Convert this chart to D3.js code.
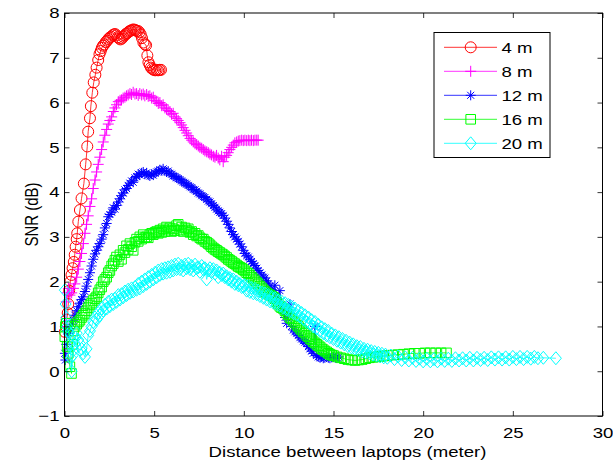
<!DOCTYPE html>
<html><head><meta charset="utf-8">
<script src="https://cdn.jsdelivr.net/npm/d3@7"></script>
<style>body{margin:0;background:#fff}svg{display:block}text{font-family:"Liberation Sans",Arial,sans-serif;fill:#000}</style>
</head><body><svg id="c" width="613" height="466"></svg>
<script>
const xTicks=[0,5,10,15,20,25,30];
const yTicks=[-1,0,1,2,3,4,5,6,7,8];
const seriesNames=["4 m","8 m","12 m","16 m","20 m"];
const seriesColors=["#ff0000","#ff00ff","#0000ff","#00ff00","#00ffff"];
const seriesMarkers=["circle","plus","star","square","diamond"];
const xLabel="Distance between laptops (meter)";
const yLabel="SNR (dB)";

const snr4m=[[0.02,0.88],[0.08,1.0],[0.12,1.15],[0.18,1.3],[0.21,1.5],[0.26,1.8],[0.33,2.0],[0.39,2.15],[0.45,2.3],[0.52,2.44],[0.57,2.6],[0.62,2.78],[0.68,2.95],[0.71,3.08],[0.77,3.34],[0.86,3.6],[0.95,3.86],[1.08,4.19],[1.18,4.62],[1.27,5.02],[1.32,5.35],[1.42,5.65],[1.47,5.92],[1.55,6.22],[1.63,6.45],[1.72,6.62],[1.79,6.78],[1.88,6.95],[1.95,7.08],[2.02,7.15],[2.08,7.22],[2.15,7.27],[2.22,7.3],[2.3,7.35],[2.38,7.38],[2.45,7.42],[2.52,7.45],[2.6,7.47],[2.68,7.5],[2.75,7.52],[2.82,7.53],[2.9,7.5],[2.98,7.46],[3.05,7.43],[3.12,7.41],[3.2,7.43],[3.28,7.47],[3.35,7.5],[3.42,7.53],[3.5,7.55],[3.58,7.58],[3.65,7.6],[3.72,7.61],[3.8,7.63],[3.88,7.63],[3.95,7.62],[4.02,7.6],[4.1,7.6],[4.18,7.57],[4.25,7.52],[4.32,7.44],[4.4,7.34],[4.48,7.3],[4.55,7.28],[4.62,7.05],[4.68,6.9],[4.75,6.84],[4.82,6.78],[4.9,6.75],[4.98,6.73],[5.06,6.72],[5.14,6.73],[5.22,6.72],[5.3,6.73],[5.38,6.73]];

const snr8m=[[0.05,1.0],[0.1,1.55],[0.15,1.75],[0.22,1.85],[0.3,1.7],[0.4,1.75],[0.5,1.85],[0.58,1.95],[0.68,2.1],[0.77,2.28],[0.86,2.45],[0.95,2.63],[1.05,2.85],[1.14,3.08],[1.23,3.28],[1.32,3.47],[1.42,3.68],[1.51,3.85],[1.6,4.08],[1.7,4.27],[1.79,4.45],[1.88,4.62],[1.97,4.78],[2.07,4.95],[2.16,5.12],[2.25,5.27],[2.35,5.4],[2.44,5.52],[2.53,5.6],[2.63,5.68],[2.72,5.8],[2.81,5.88],[2.9,5.95],[3.0,6.02],[3.1,6.05],[3.18,6.06],[3.27,6.1],[3.37,6.12],[3.46,6.15],[3.55,6.17],[3.65,6.2],[3.74,6.18],[3.83,6.23],[3.93,6.19],[4.02,6.2],[4.11,6.16],[4.2,6.2],[4.3,6.17],[4.39,6.19],[4.48,6.15],[4.58,6.18],[4.67,6.14],[4.76,6.15],[4.86,6.1],[4.95,6.12],[5.05,6.05],[5.14,6.03],[5.23,5.98],[5.32,6.0],[5.42,5.93],[5.5,5.95],[5.6,5.88],[5.69,5.86],[5.78,5.82],[5.88,5.8],[5.97,5.74],[6.06,5.76],[6.16,5.68],[6.25,5.64],[6.34,5.6],[6.44,5.55],[6.53,5.5],[6.62,5.44],[6.72,5.38],[6.81,5.32],[6.9,5.26],[7.0,5.2],[7.09,5.16],[7.18,5.12],[7.28,5.08],[7.37,5.06],[7.46,5.03],[7.55,5.0],[7.65,4.98],[7.74,4.95],[7.83,4.92],[7.93,4.9],[8.02,4.88],[8.11,4.85],[8.2,4.83],[8.3,4.8],[8.39,4.78],[8.48,4.82],[8.57,4.76],[8.66,4.72],[8.76,4.8],[8.85,4.68],[8.94,4.78],[9.04,4.82],[9.13,4.88],[9.22,4.95],[9.32,5.0],[9.41,5.05],[9.5,5.1],[9.6,5.12],[9.69,5.14],[9.78,5.15],[9.88,5.16],[9.97,5.15],[10.06,5.16],[10.16,5.15],[10.25,5.16],[10.34,5.15],[10.43,5.16],[10.53,5.15],[10.62,5.16],[10.72,5.16],[10.8,5.16]];

const snr12m=[[0.02,0.4],[0.05,0.25],[0.1,0.6],[0.15,0.9],[0.21,0.85],[0.3,0.95],[0.4,1.05],[0.49,1.14],[0.58,1.25],[0.68,1.35],[0.77,1.44],[0.86,1.52],[0.95,1.6],[1.04,1.66],[1.14,1.78],[1.23,1.9],[1.32,2.05],[1.42,2.2],[1.51,2.35],[1.6,2.5],[1.7,2.62],[1.79,2.7],[1.88,2.78],[1.97,2.85],[2.07,2.95],[2.16,3.05],[2.25,3.2],[2.35,3.3],[2.44,3.45],[2.53,3.5],[2.63,3.55],[2.72,3.65],[2.81,3.62],[2.9,3.7],[3.0,3.78],[3.09,3.85],[3.18,3.92],[3.27,3.98],[3.37,4.05],[3.46,4.08],[3.55,4.15],[3.65,4.2],[3.74,4.25],[3.83,4.22],[3.93,4.32],[4.02,4.35],[4.11,4.4],[4.2,4.38],[4.3,4.43],[4.39,4.45],[4.48,4.4],[4.58,4.43],[4.67,4.38],[4.76,4.36],[4.86,4.4],[4.95,4.38],[5.05,4.42],[5.14,4.45],[5.23,4.47],[5.32,4.5],[5.42,4.48],[5.5,4.52],[5.6,4.47],[5.69,4.45],[5.78,4.47],[5.88,4.42],[5.97,4.4],[6.06,4.36],[6.16,4.35],[6.25,4.32],[6.34,4.3],[6.44,4.28],[6.53,4.25],[6.62,4.22],[6.72,4.2],[6.81,4.18],[6.9,4.15],[7.0,4.12],[7.09,4.1],[7.18,4.06],[7.28,4.05],[7.37,4.02],[7.46,3.98],[7.55,3.96],[7.65,3.92],[7.74,3.9],[7.83,3.88],[7.93,3.84],[8.02,3.8],[8.11,3.78],[8.2,3.74],[8.3,3.7],[8.39,3.66],[8.48,3.62],[8.57,3.58],[8.66,3.55],[8.76,3.52],[8.85,3.48],[8.94,3.42],[9.04,3.35],[9.13,3.28],[9.22,3.2],[9.32,3.12],[9.41,3.05],[9.5,3.0],[9.6,2.95],[9.69,2.9],[9.78,2.84],[9.88,2.78],[9.97,2.7],[10.06,2.63],[10.16,2.58],[10.25,2.55],[10.34,2.5],[10.43,2.45],[10.53,2.4],[10.62,2.36],[10.72,2.3],[10.8,2.25],[10.9,2.2],[11.0,2.15],[11.09,2.1],[11.18,2.08],[11.27,2.02],[11.37,1.95],[11.46,1.9],[11.55,1.82],[11.65,1.75],[11.73,1.92],[11.83,1.65],[11.92,1.55],[12.01,1.8],[12.1,1.45],[12.2,1.35],[12.3,1.2],[12.39,1.07],[12.48,1.3],[12.57,1.5],[12.66,1.0],[12.76,0.92],[12.85,0.88],[12.95,0.85],[13.04,0.8],[13.13,0.75],[13.22,0.72],[13.32,0.68],[13.41,0.65],[13.5,0.62],[13.6,0.55],[13.69,0.5],[13.78,0.45],[13.87,0.4],[13.97,1.0],[14.06,0.35],[14.15,0.32],[14.25,0.3],[14.34,0.32],[14.43,0.29],[14.52,0.3],[14.62,0.32],[14.71,0.3],[14.8,0.29],[14.9,0.31],[14.99,0.32],[15.1,0.3],[15.2,0.31],[15.3,0.32]];

const snr16m=[[0.02,0.77],[0.05,1.0],[0.1,1.07],[0.15,0.55],[0.21,0.4],[0.3,0.1],[0.39,-0.05],[0.45,0.6],[0.5,0.9],[0.58,1.0],[0.68,1.05],[0.77,1.1],[0.86,1.14],[0.95,1.2],[1.04,1.25],[1.14,1.29],[1.23,1.35],[1.32,1.42],[1.42,1.48],[1.51,1.52],[1.6,1.58],[1.7,1.62],[1.79,1.66],[1.88,1.75],[1.97,1.82],[2.07,1.88],[2.16,2.0],[2.25,2.05],[2.35,2.1],[2.44,2.2],[2.53,2.25],[2.63,2.35],[2.72,2.4],[2.81,2.48],[2.9,2.55],[3.0,2.45],[3.09,2.6],[3.18,2.5],[3.27,2.7],[3.37,2.65],[3.46,2.8],[3.55,2.72],[3.65,2.85],[3.74,2.78],[3.83,2.7],[3.93,2.88],[4.02,2.95],[4.11,2.9],[4.2,3.0],[4.3,2.95],[4.39,3.05],[4.48,2.98],[4.58,3.0],[4.67,2.98],[4.76,3.05],[4.86,3.08],[4.95,3.05],[5.05,3.1],[5.14,3.12],[5.23,3.08],[5.32,3.15],[5.42,3.1],[5.5,3.18],[5.6,3.12],[5.69,3.22],[5.78,3.15],[5.88,3.2],[5.97,3.12],[6.06,3.18],[6.16,3.14],[6.25,3.25],[6.34,3.28],[6.44,3.15],[6.53,3.22],[6.62,3.12],[6.72,3.2],[6.81,3.15],[6.9,3.18],[7.0,3.1],[7.09,3.12],[7.18,3.05],[7.28,3.08],[7.37,3.02],[7.46,3.03],[7.55,2.98],[7.65,2.95],[7.74,2.95],[7.83,2.9],[7.93,2.88],[8.02,2.85],[8.11,2.82],[8.2,2.78],[8.3,2.75],[8.39,2.72],[8.48,2.7],[8.57,2.67],[8.66,2.65],[8.76,2.62],[8.85,2.6],[8.94,2.57],[9.04,2.54],[9.13,2.5],[9.22,2.48],[9.32,2.45],[9.41,2.42],[9.5,2.4],[9.6,2.37],[9.69,2.34],[9.78,2.32],[9.88,2.3],[9.97,2.27],[10.06,2.24],[10.16,2.2],[10.25,2.18],[10.34,2.14],[10.43,2.1],[10.53,2.06],[10.62,2.02],[10.72,1.98],[10.8,1.95],[10.9,1.9],[11.0,1.86],[11.09,1.82],[11.18,1.78],[11.27,1.75],[11.37,1.72],[11.46,1.7],[11.55,1.68],[11.65,1.65],[11.73,1.62],[11.83,1.55],[11.92,1.5],[12.01,1.45],[12.1,1.42],[12.2,1.4],[12.3,1.35],[12.39,1.3],[12.48,1.26],[12.57,1.2],[12.66,1.17],[12.76,1.12],[12.85,1.08],[12.95,1.03],[13.04,1.0],[13.13,0.96],[13.22,0.92],[13.32,0.88],[13.41,0.85],[13.5,0.8],[13.6,0.77],[13.69,0.73],[13.78,0.7],[13.87,0.66],[13.97,0.63],[14.06,0.6],[14.15,0.57],[14.25,0.54],[14.34,0.5],[14.43,0.48],[14.52,0.45],[14.62,0.43],[14.71,0.4],[14.8,0.38],[14.9,0.36],[15.0,0.35],[15.2,0.32],[15.4,0.3],[15.6,0.28],[15.8,0.26],[16.0,0.25],[16.2,0.24],[16.4,0.25],[16.6,0.26],[16.8,0.28],[17.0,0.3],[17.2,0.31],[17.4,0.32],[17.6,0.33],[17.8,0.34],[18.0,0.35],[18.3,0.36],[18.6,0.37],[18.9,0.38],[19.2,0.39],[19.5,0.4],[19.8,0.4],[20.1,0.41],[20.4,0.41],[20.7,0.41],[21.0,0.41],[21.3,0.41]];

const snr20m=[[0.02,1.81],[0.06,1.5],[0.1,1.2],[0.15,1.0],[0.2,0.9],[0.26,0.85],[0.3,0.6],[0.35,0.3],[0.4,0.0],[0.45,0.35],[0.49,0.47],[0.55,0.6],[0.62,0.75],[0.68,0.85],[0.77,0.7],[0.86,0.62],[0.95,0.5],[1.04,0.4],[1.14,0.32],[1.23,0.5],[1.32,0.8],[1.42,0.9],[1.51,1.0],[1.6,1.1],[1.7,1.2],[1.79,1.15],[1.88,1.3],[1.97,1.25],[2.07,1.4],[2.16,1.35],[2.25,1.48],[2.35,1.4],[2.44,1.55],[2.53,1.45],[2.63,1.6],[2.72,1.5],[2.81,1.62],[2.9,1.55],[3.0,1.7],[3.09,1.6],[3.18,1.72],[3.27,1.65],[3.37,1.78],[3.46,1.7],[3.55,1.82],[3.65,1.75],[3.74,1.85],[3.83,1.78],[3.93,1.88],[4.02,1.82],[4.11,1.95],[4.2,1.85],[4.3,2.0],[4.39,1.9],[4.48,2.05],[4.58,1.95],[4.67,2.1],[4.76,2.0],[4.86,2.15],[4.95,2.05],[5.05,2.2],[5.14,2.1],[5.23,2.25],[5.32,2.15],[5.42,2.28],[5.5,2.18],[5.6,2.3],[5.69,2.2],[5.78,2.32],[5.88,2.22],[5.97,2.35],[6.06,2.25],[6.16,2.38],[6.25,2.28],[6.34,2.4],[6.44,2.28],[6.53,2.35],[6.62,2.25],[6.72,2.38],[6.81,2.3],[6.9,2.4],[7.0,2.28],[7.09,2.35],[7.18,2.25],[7.28,2.38],[7.37,2.3],[7.46,2.32],[7.55,2.22],[7.65,2.35],[7.74,2.28],[7.83,2.3],[7.93,2.05],[8.02,2.25],[8.11,2.3],[8.2,2.22],[8.3,2.28],[8.39,2.18],[8.48,2.25],[8.57,2.1],[8.66,2.2],[8.76,2.15],[8.85,2.18],[8.94,2.1],[9.04,2.12],[9.13,2.05],[9.22,2.08],[9.32,2.0],[9.41,2.05],[9.5,1.95],[9.6,2.0],[9.69,1.92],[9.78,1.95],[9.88,1.88],[9.97,1.9],[10.06,1.92],[10.16,1.8],[10.25,1.9],[10.34,1.77],[10.43,1.86],[10.53,1.74],[10.62,1.84],[10.72,1.72],[10.8,1.8],[10.9,1.68],[11.0,1.76],[11.09,1.64],[11.18,1.74],[11.27,1.6],[11.37,1.7],[11.46,1.56],[11.55,1.66],[11.65,1.53],[11.73,1.63],[11.83,1.5],[11.92,1.58],[12.01,1.46],[12.1,1.56],[12.2,1.42],[12.3,1.52],[12.39,1.38],[12.48,1.48],[12.57,1.34],[12.66,1.44],[12.76,1.3],[12.85,1.4],[12.95,1.26],[13.04,1.35],[13.13,1.22],[13.22,1.3],[13.32,1.16],[13.41,1.25],[13.5,1.1],[13.6,1.2],[13.69,1.06],[13.78,1.14],[13.87,1.0],[13.97,1.1],[14.06,0.96],[14.15,1.04],[14.25,0.9],[14.34,0.98],[14.43,0.85],[14.52,0.94],[14.62,0.8],[14.71,0.9],[14.8,0.76],[14.9,0.84],[15.0,0.72],[15.1,0.8],[15.2,0.68],[15.3,0.76],[15.4,0.64],[15.5,0.72],[15.6,0.6],[15.7,0.68],[15.8,0.56],[15.9,0.64],[16.0,0.53],[16.1,0.6],[16.2,0.5],[16.3,0.56],[16.4,0.47],[16.5,0.54],[16.6,0.44],[16.7,0.5],[16.8,0.42],[16.9,0.48],[17.0,0.4],[17.1,0.45],[17.2,0.37],[17.3,0.43],[17.4,0.35],[17.5,0.41],[17.6,0.33],[17.7,0.39],[17.8,0.31],[17.9,0.37],[18.0,0.3],[18.2,0.35],[18.4,0.27],[18.6,0.33],[18.8,0.25],[19.0,0.31],[19.2,0.24],[19.4,0.3],[19.6,0.23],[19.8,0.28],[20.0,0.22],[20.2,0.28],[20.4,0.22],[20.6,0.27],[20.8,0.22],[21.0,0.28],[21.2,0.23],[21.4,0.28],[21.6,0.23],[21.8,0.29],[22.0,0.24],[22.2,0.29],[22.4,0.24],[22.6,0.3],[22.8,0.24],[23.0,0.3],[23.2,0.25],[23.4,0.3],[23.6,0.25],[23.8,0.31],[24.0,0.26],[24.2,0.31],[24.4,0.26],[24.6,0.31],[24.8,0.26],[25.0,0.32],[25.2,0.27],[25.4,0.32],[25.6,0.27],[25.8,0.32],[26.0,0.28],[26.2,0.32],[26.4,0.29],[26.7,0.3],[27.4,0.29]];

const allSeries=[snr4m,snr8m,snr12m,snr16m,snr20m];

const svg=d3.select("#c");
const L=64.5,R=602.5,T=13,B=416;
const x=d3.scaleLinear().domain([0,30]).range([L,R]);
const y=d3.scaleLinear().domain([-1,8]).range([B,T]);
const SX=1.24, FS=15;

function markerPath(type){
  const p=d3.path();
  if(type==="circle"){p.moveTo(5.5,0);p.arc(0,0,5.5,0,2*Math.PI);}
  else if(type==="plus"){p.moveTo(-5.5,0);p.lineTo(5.5,0);p.moveTo(0,-5.5);p.lineTo(0,5.5);}
  else if(type==="star"){const r=5,d=3.5;p.moveTo(-r,0);p.lineTo(r,0);p.moveTo(0,-r);p.lineTo(0,r);p.moveTo(-d,-d);p.lineTo(d,d);p.moveTo(-d,d);p.lineTo(d,-d);}
  else if(type==="square"){p.rect(-4.8,-4.8,9.6,9.6);}
  else if(type==="diamond"){p.moveTo(0,-6.5);p.lineTo(5.5,0);p.lineTo(0,6.5);p.lineTo(-5.5,0);p.closePath();}
  return p.toString();
}

const plot=svg.append("g");
const line=d3.line().x(d=>x(d[0])).y(d=>y(d[1]));
allSeries.forEach((data,i)=>{
  const g=plot.append("g");
  g.append("path").datum(data).attr("d",line).attr("fill","none").attr("stroke",seriesColors[i]).attr("stroke-width",0.8);
  g.selectAll("path.m").data(data).join("path").attr("class","m")
   .attr("transform",d=>`translate(${x(d[0])},${y(d[1])})`)
   .attr("d",markerPath(seriesMarkers[i])).attr("fill","none")
   .attr("stroke",seriesColors[i]).attr("stroke-width",1);
});

// axes
const axB=svg.append("g").attr("transform",`translate(0,${B})`)
  .call(d3.axisBottom(x).tickValues(xTicks).tickSizeInner(-5).tickSizeOuter(0).tickPadding(11));
const axT=svg.append("g").attr("transform",`translate(0,${T})`)
  .call(d3.axisTop(x).tickValues(xTicks).tickSizeInner(-5).tickSizeOuter(0).tickFormat(""));
const axL=svg.append("g").attr("transform",`translate(${L},0)`)
  .call(d3.axisLeft(y).tickValues(yTicks).tickSizeInner(-5).tickSizeOuter(0).tickPadding(4));
const axR=svg.append("g").attr("transform",`translate(${R},0)`)
  .call(d3.axisRight(y).tickValues(yTicks).tickSizeInner(-5).tickSizeOuter(0).tickFormat(""));
[axB,axT,axL,axR].forEach(a=>{a.select(".domain").remove();a.selectAll("line").attr("stroke","#000").attr("stroke-width",0.8);});
axB.selectAll("text").attr("font-size",FS).attr("font-family",null).attr("transform",`scale(${SX},1)`);
axL.selectAll("text").attr("font-size",FS).attr("font-family",null).attr("x",-5/SX).attr("transform",`scale(${SX},1)`)
  .text(d=>d<0?"\u2212"+Math.abs(d):d);
svg.append("rect").attr("x",L).attr("y",T).attr("width",R-L).attr("height",B-T).attr("fill","none").attr("stroke","#000").attr("stroke-width",1);

// labels
svg.append("text").attr("transform",`translate(${(L+R)/2+14},457) scale(${SX},1)`).attr("text-anchor","middle").attr("font-size",FS).text(xLabel);
svg.append("text").attr("transform",`translate(38,${(T+B)/2}) scale(${SX},1) rotate(-90)`).attr("text-anchor","middle").attr("font-size",FS).text(yLabel);

// legend
const lg=svg.append("g");
lg.append("rect").attr("x",434).attr("y",32.5).attr("width",116).attr("height",125).attr("fill","#fff").attr("stroke","#000").attr("stroke-width",1);
seriesNames.forEach((n,i)=>{
  const cy=47.3+i*24;
  lg.append("line").attr("x1",444).attr("x2",497).attr("y1",cy).attr("y2",cy).attr("stroke",seriesColors[i]).attr("stroke-width",0.8);
  lg.append("path").attr("transform",`translate(470.7,${cy})`).attr("d",markerPath(seriesMarkers[i])).attr("fill","none").attr("stroke",seriesColors[i]).attr("stroke-width",1);
  lg.append("text").attr("transform",`translate(501.5,${cy+5.5}) scale(${SX},1)`).attr("font-size",FS).text(n);
});
</script></body></html>
